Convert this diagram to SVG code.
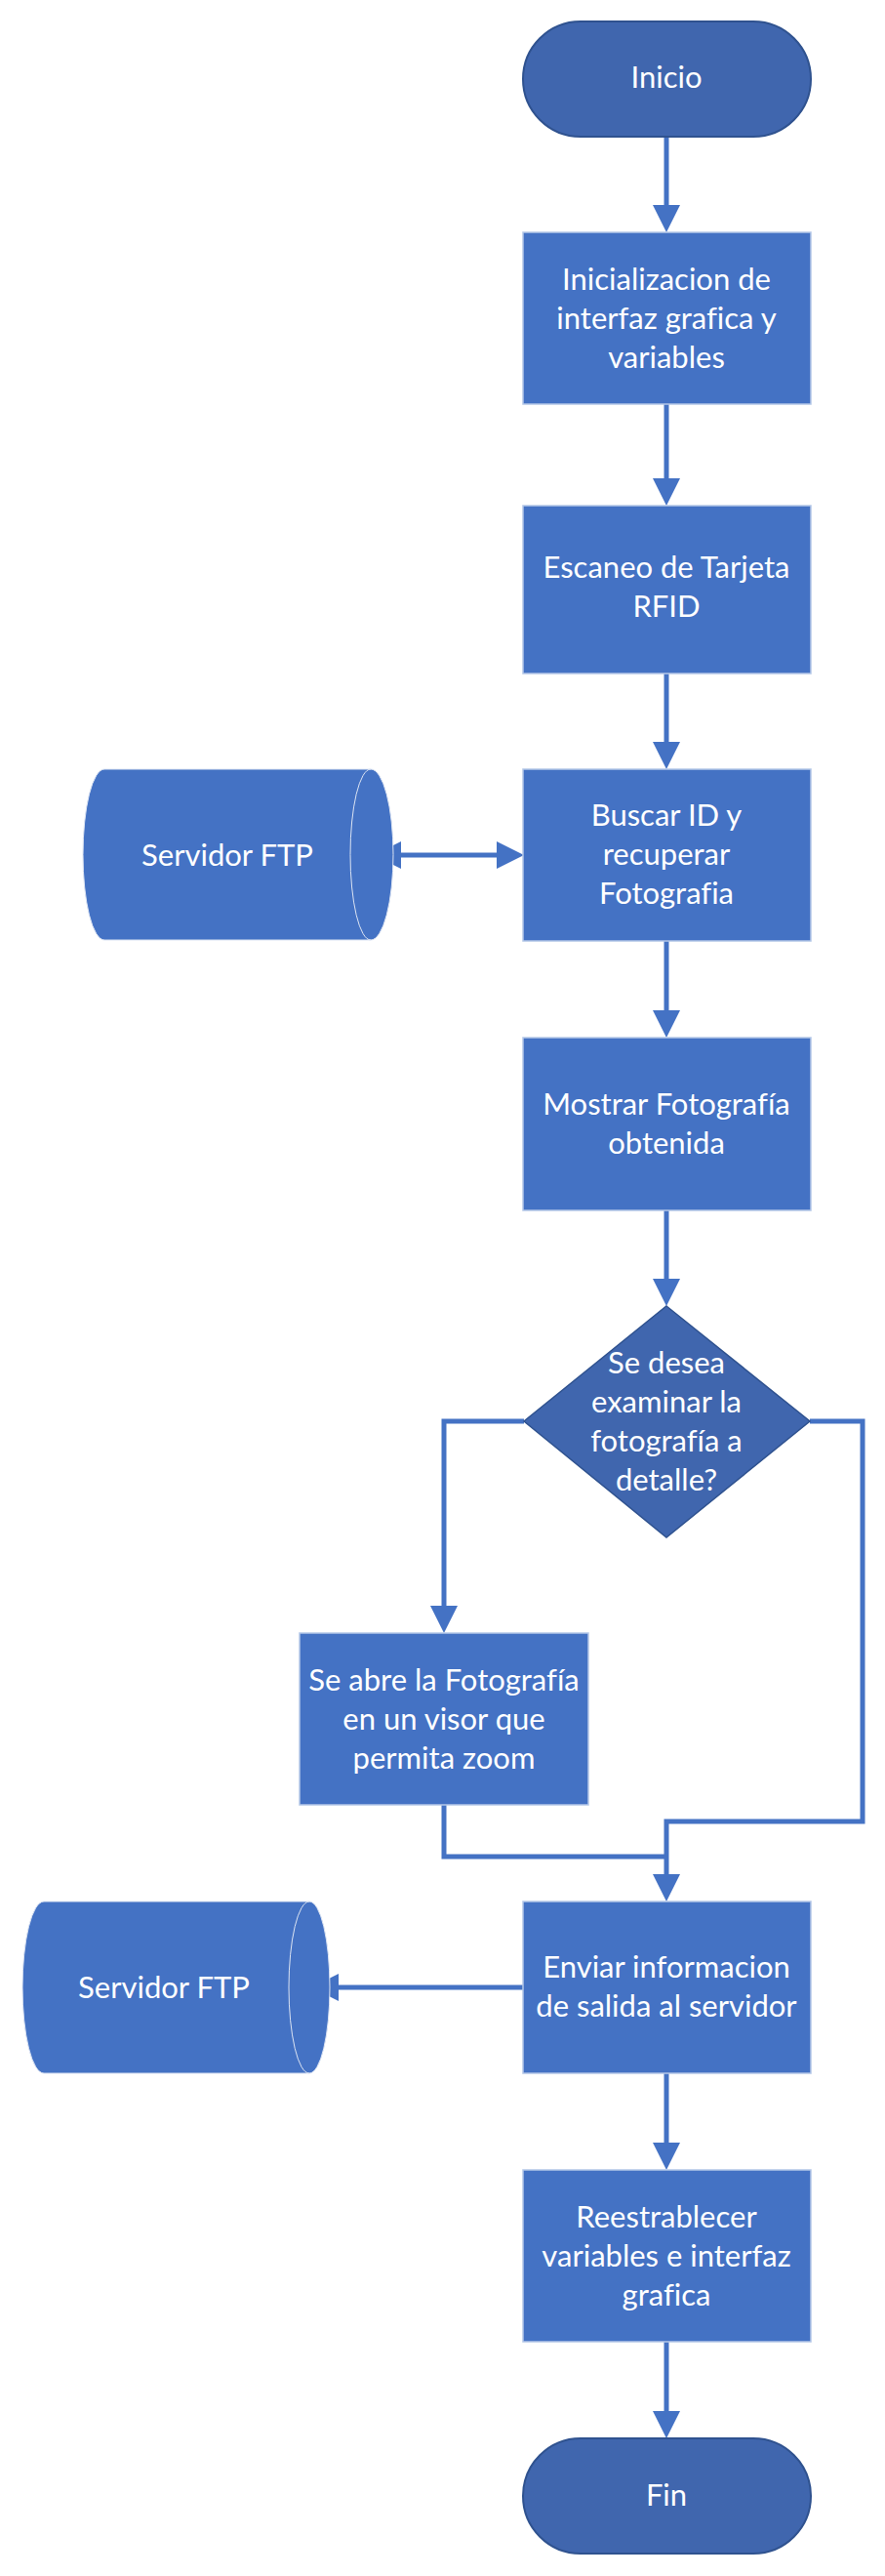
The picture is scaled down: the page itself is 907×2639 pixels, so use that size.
<svg xmlns="http://www.w3.org/2000/svg" width="907" height="2639" viewBox="0 0 907 2639">
<style>
.term{fill:#4066AE;stroke:#2F528F;stroke-width:2}
.proc{fill:#4472C4;stroke:#B4C7E7;stroke-width:1.5}
.dec{fill:#4066AE;stroke:#2F528F;stroke-width:1.5}
.cyl{fill:#4472C4;stroke:#DCE4F3;stroke-width:1}
.arc{fill:none;stroke:#DCE4F3;stroke-width:1}
.con{fill:none;stroke:#4472C4;stroke-width:5;stroke-linejoin:miter}
text{font-family:Lato,"Open Sans","Liberation Sans",sans-serif;font-size:31px;fill:#FFFFFF;text-anchor:middle;font-variant-ligatures:none;font-feature-settings:"liga" 0}
</style>
<defs>
<marker id="ah" markerUnits="userSpaceOnUse" markerWidth="30" markerHeight="30" refX="0" refY="14" orient="auto-start-reverse" viewBox="0 0 30 30">
<path d="M0,0 L28,14 L0,28 Z" fill="#4472C4"/>
</marker>
</defs>
<g id="connectors">
<path class="con" d="M683,140 L683,210" marker-end="url(#ah)"/>
<path class="con" d="M683,414 L683,490" marker-end="url(#ah)"/>
<path class="con" d="M683,690 L683,760" marker-end="url(#ah)"/>
<path class="con" d="M509,876 L411,876" marker-start="url(#ah)" marker-end="url(#ah)"/>
<path class="con" d="M683,964 L683,1035" marker-end="url(#ah)"/>
<path class="con" d="M683,1240 L683,1310" marker-end="url(#ah)"/>
<path class="con" d="M537,1456 L455,1456 L455,1645" marker-end="url(#ah)"/>
<path class="con" d="M830,1456 L884,1456 L884,1866 L683,1866 L683,1920" marker-end="url(#ah)"/>
<path class="con" d="M455,1849 L455,1902 L683,1902"/>
<path class="con" d="M537,2036 L347,2036" marker-end="url(#ah)"/>
<path class="con" d="M683,2124 L683,2195" marker-end="url(#ah)"/>
<path class="con" d="M683,2399 L683,2470" marker-end="url(#ah)"/>
</g>
<g id="inicio">
<rect class="term" x="536" y="22" width="295" height="118" rx="59" ry="59"/>
<text x="683" y="90">Inicio</text>
</g>
<g id="inicializacion">
<rect class="proc" x="536" y="238" width="295" height="176"/>
<text x="683" y="297">Inicializacion de</text>
<text x="683" y="337">interfaz grafica y</text>
<text x="683" y="377">variables</text>
</g>
<g id="escaneo">
<rect class="proc" x="536" y="518" width="295" height="172"/>
<text x="683" y="592">Escaneo de Tarjeta</text>
<text x="683" y="632">RFID</text>
</g>
<g id="servidor1">
<path class="cyl" d="M107,788 L380,788 A23,87.5 0 0 1 380,963 L107,963 A22,87.5 0 0 1 107,788 Z"/>
<path class="arc" d="M380,788 A21,87.5 0 0 0 380,963"/>
<text x="233" y="887">Servidor FTP</text>
</g>
<g id="buscar">
<rect class="proc" x="536" y="788" width="295" height="176"/>
<text x="683" y="846">Buscar ID y</text>
<text x="683" y="886">recuperar</text>
<text x="683" y="926">Fotografia</text>
</g>
<g id="mostrar">
<rect class="proc" x="536" y="1063" width="295" height="177"/>
<text x="683" y="1142">Mostrar Fotografía</text>
<text x="683" y="1182">obtenida</text>
</g>
<g id="decision">
<polygon class="dec" points="683,1338 830,1456 683,1575 537,1456"/>
<text x="683" y="1407">Se desea</text>
<text x="683" y="1447">examinar la</text>
<text x="683" y="1487">fotografía a</text>
<text x="683" y="1527">detalle?</text>
</g>
<g id="visor">
<rect class="proc" x="307" y="1673" width="296" height="176"/>
<text x="455" y="1732">Se abre la Fotografía</text>
<text x="455" y="1772">en un visor que</text>
<text x="455" y="1812">permita zoom</text>
</g>
<g id="servidor2">
<path class="cyl" d="M45,1948 L317,1948 A21,88 0 0 1 317,2124 L45,2124 A22,88 0 0 1 45,1948 Z"/>
<path class="arc" d="M317,1948 A21,88 0 0 0 317,2124"/>
<text x="168" y="2047">Servidor FTP</text>
</g>
<g id="enviar">
<rect class="proc" x="536" y="1948" width="295" height="176"/>
<text x="683" y="2026">Enviar informacion</text>
<text x="683" y="2066">de salida al servidor</text>
</g>
<g id="reestablecer">
<rect class="proc" x="536" y="2223" width="295" height="176"/>
<text x="683" y="2282">Reestrablecer</text>
<text x="683" y="2322">variables e interfaz</text>
<text x="683" y="2362">grafica</text>
</g>
<g id="fin">
<rect class="term" x="536" y="2498" width="295" height="118" rx="59" ry="59"/>
<text x="683" y="2567">Fin</text>
</g>
</svg>
